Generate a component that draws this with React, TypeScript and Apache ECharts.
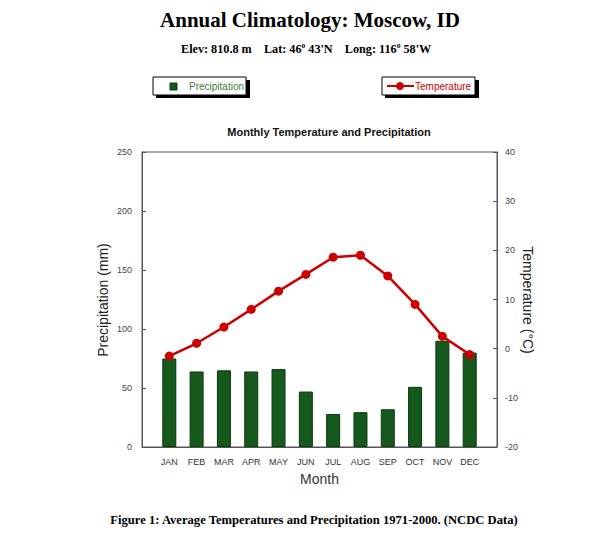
import React, { useEffect, useRef } from "react";
import * as echarts from "echarts";

const months = ["", "JAN", "FEB", "MAR", "APR", "MAY", "JUN", "JUL", "AUG", "SEP", "OCT", "NOV", "DEC", ""];
const precipitation = [75, 64, 65, 64, 66, 47, 28, 29.5, 32, 51, 90, 80];
const temperature = [-1.5, 1.1, 4.4, 8.0, 11.7, 15.1, 18.6, 19.0, 14.8, 9.0, 2.5, -1.2];

const SANS = "'Liberation Sans', Arial, sans-serif";
const SERIF = "'Liberation Serif', 'Times New Roman', serif";
const GREEN = "#15591d";
const RED = "#cc0000";

export default function App() {
  const ref = useRef<HTMLDivElement>(null);
  useEffect(() => {
    if (!ref.current) return;
    const chart = echarts.init(ref.current, undefined, { renderer: "svg" });
    const padded = (arr: number[]) => [null, ...arr, null];
    chart.setOption({
      animation: false,
      backgroundColor: "#fff",
      textStyle: { fontFamily: SANS },
      grid: { left: 142, right: 92, top: 152, bottom: 91, show: true, borderColor: "#555", borderWidth: 1 },
      xAxis: {
        type: "category",
        data: months,
        boundaryGap: false,
        name: "Month",
        nameLocation: "middle",
        nameGap: 25,
        nameTextStyle: { fontSize: 14, color: "#333", fontFamily: SANS },
        axisLine: { lineStyle: { color: "#555" } },
        axisTick: { show: false },
        axisLabel: { fontSize: 9, color: "#333", margin: 10, interval: 0 },
        splitLine: { show: false },
      },
      yAxis: [
        {
          type: "value",
          min: 0,
          max: 250,
          interval: 50,
          axisLine: { show: true, lineStyle: { color: "#555" } },
          axisTick: { show: true, inside: true, length: 4, lineStyle: { color: "#555" } },
          axisLabel: { fontSize: 9, color: "#444", margin: 10 },
          splitLine: { show: false },
        },
        {
          type: "value",
          min: -20,
          max: 40,
          interval: 10,
          position: "right",
          axisLine: { show: true, lineStyle: { color: "#555" } },
          axisTick: { show: true, inside: true, length: 4, lineStyle: { color: "#555" } },
          axisLabel: { fontSize: 9, color: "#444", margin: 8 },
          splitLine: { show: false },
        },
      ],
      series: [
        {
          name: "Precipitation",
          type: "bar",
          yAxisIndex: 0,
          data: padded(precipitation),
          barWidth: 14,
          itemStyle: { color: GREEN, borderColor: "#0b3a10", borderWidth: 1 },
        },
        {
          name: "Temperature",
          type: "line",
          yAxisIndex: 1,
          data: padded(temperature),
          symbol: "circle",
          symbolSize: 9,
          lineStyle: { color: RED, width: 2.5 },
          itemStyle: { color: RED },
          z: 5,
        },
      ],
      graphic: [
        {
          type: "text",
          x: 310,
          y: 20,
          style: { text: "Annual Climatology: Moscow, ID", font: `bold 21px ${SERIF}`, fill: "#000", align: "center", verticalAlign: "middle" },
        },
        {
          type: "text",
          left: 181,
          top: 41,
          style: {
            text: "{b|Elev: 810.8 m    Lat: 46}{s|o}{b| 43'N    Long: 116}{s|o}{b| 58'W}",
            rich: {
              b: { font: `bold 12.2px ${SERIF}`, fill: "#000", verticalAlign: "bottom" },
              s: { font: `bold 7.5px ${SERIF}`, fill: "#000", verticalAlign: "top", padding: [0, 0, 6, 0] },
            },
          },
        },
        // Precipitation legend box
        { type: "rect", shape: { x: 156, y: 80, width: 94, height: 18 }, style: { fill: "#000" } },
        { type: "rect", shape: { x: 153, y: 77, width: 93, height: 18 }, style: { fill: "#fff", stroke: "#000", lineWidth: 1 } },
        { type: "rect", shape: { x: 170, y: 83, width: 7, height: 7 }, style: { fill: GREEN, stroke: "#0b3a10", lineWidth: 1 } },
        { type: "text", x: 189, y: 86, style: { text: "Precipitation", font: `10px ${SANS}`, fill: "#3d7d3d", verticalAlign: "middle" } },
        // Temperature legend box
        { type: "rect", shape: { x: 385, y: 80, width: 94, height: 18 }, style: { fill: "#000" } },
        { type: "rect", shape: { x: 382, y: 77, width: 93, height: 18 }, style: { fill: "#fff", stroke: "#000", lineWidth: 1 } },
        { type: "line", shape: { x1: 387, y1: 86, x2: 414, y2: 86 }, style: { stroke: RED, lineWidth: 2 } },
        { type: "circle", shape: { cx: 400, cy: 86, r: 4 }, style: { fill: RED } },
        { type: "text", x: 415, y: 86, style: { text: "Temperature", font: `10px ${SANS}`, fill: RED, verticalAlign: "middle" } },
        {
          type: "text",
          x: 329,
          y: 132,
          style: { text: "Monthly Temperature and Precipitation", font: `bold 11px ${SANS}`, fill: "#111", align: "center", verticalAlign: "middle" },
        },
        {
          type: "text",
          x: 103,
          y: 300,
          rotation: Math.PI / 2,
          style: { text: "Precipitation (mm)", font: `14px ${SANS}`, fill: "#222", align: "center", verticalAlign: "middle" },
        },
        {
          type: "text",
          x: 528,
          y: 300,
          rotation: -Math.PI / 2,
          style: { text: "Temperature (°C)", font: `14px ${SANS}`, fill: "#222", align: "center", verticalAlign: "middle" },
        },
        {
          type: "text",
          x: 314,
          y: 520,
          style: {
            text: "Figure 1: Average Temperatures and Precipitation 1971-2000. (NCDC Data)",
            font: `bold 12.6px ${SERIF}`,
            fill: "#000",
            align: "center",
            verticalAlign: "middle",
          },
        },
      ],
    });
    return () => chart.dispose();
  }, []);
  return <div ref={ref} style={{ width: 589, height: 538, position: "absolute", left: 0, top: 0 }} />;
}
